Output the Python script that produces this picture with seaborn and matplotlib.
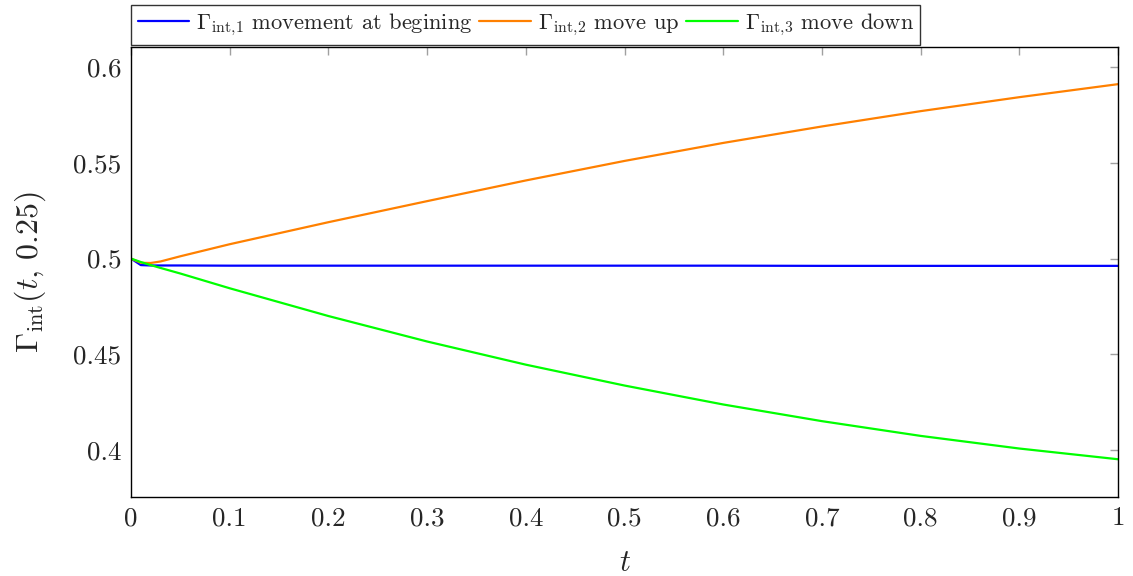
import numpy as np
import pandas as pd
import matplotlib
matplotlib.use("Agg")
import matplotlib.pyplot as plt
import seaborn as sns

# ---- data ----
t_values = [0.0, 0.01, 0.02, 0.03, 0.05, 0.1, 0.2, 0.3, 0.4, 0.5, 0.6, 0.7, 0.8, 0.9, 1.0]
gamma_1 = [0.5, 0.4966, 0.4964, 0.4964, 0.4964, 0.4963, 0.4963, 0.4963, 0.4963, 0.4963,
           0.4963, 0.4962, 0.4962, 0.4962, 0.4962]
gamma_2 = [0.5, 0.4978, 0.4977, 0.4985, 0.5012, 0.5075, 0.5190, 0.5300, 0.5408, 0.5510,
           0.5604, 0.5690, 0.5770, 0.5843, 0.5911]
gamma_3 = [0.5, 0.4982, 0.4966, 0.4951, 0.4922, 0.4845, 0.4700, 0.4567, 0.4446, 0.4337,
           0.4238, 0.4151, 0.4074, 0.4008, 0.3952]
series_labels = [r"$\Gamma_{\mathrm{int},\!1}$ movement at begining",
                 r"$\Gamma_{\mathrm{int},\!2}$ move up",
                 r"$\Gamma_{\mathrm{int},\!3}$ move down"]
x_ticks = [0, 0.1, 0.2, 0.3, 0.4, 0.5, 0.6, 0.7, 0.8, 0.9, 1]
x_tick_labels = ["0", "0.1", "0.2", "0.3", "0.4", "0.5", "0.6", "0.7", "0.8", "0.9", "1"]
y_ticks = [0.4, 0.45, 0.5, 0.55, 0.6]
y_tick_labels = ["0.4", "0.45", "0.5", "0.55", "0.6"]

sns.set_theme(style="white")
plt.rcParams["font.family"] = "serif"
plt.rcParams["font.serif"] = ["cmr10", "DejaVu Serif"]
plt.rcParams["mathtext.fontset"] = "cm"
plt.rcParams["axes.formatter.use_mathtext"] = True

df = pd.concat([
    pd.DataFrame({"t": t_values, "value": vals, "series": lab})
    for vals, lab in zip([gamma_1, gamma_2, gamma_3], series_labels)
])

colors = ["#0000ff", "#ff8000", "#00ff00"]

fig = plt.figure(figsize=(11.33, 5.76), dpi=100)
ax = fig.add_axes([0.1156, 0.1372, 0.9868 - 0.1156, 0.9184 - 0.1372])
sns.lineplot(data=df, x="t", y="value", hue="series", hue_order=series_labels,
             palette=colors, linewidth=1.6, ax=ax, sort=True, estimator=None)

ax.set_xlim(0, 1)
ax.set_ylim(0.3755, 0.6105)
ax.set_xticks(x_ticks)
ax.set_xticklabels(x_tick_labels)
ax.set_yticks(y_ticks)
ax.set_yticklabels(y_tick_labels)
ax.tick_params(direction="in", top=True, right=True, length=6, width=1,
               color="#a0a0a0", labelsize=19.5, pad=7)
for sp in ax.spines.values():
    sp.set_color("black")
    sp.set_linewidth(1.0)
ax.set_xlabel(r"$t$", fontsize=22, labelpad=14)
ax.set_ylabel(r"$\Gamma_{\mathrm{int}}(t,\,0.25)$", fontsize=23, labelpad=18)

handles, labels = ax.get_legend_handles_labels()
leg = ax.legend(handles, labels, loc="lower left", bbox_to_anchor=(0.0, 1.005),
                ncol=3, fontsize=16.2, frameon=True, fancybox=False,
                edgecolor="black", borderaxespad=0.0, handlelength=2.3,
                handletextpad=0.3, columnspacing=0.3, borderpad=0.3)
leg.get_frame().set_linewidth(1.0)

fig.savefig("out.png", dpi=100)
